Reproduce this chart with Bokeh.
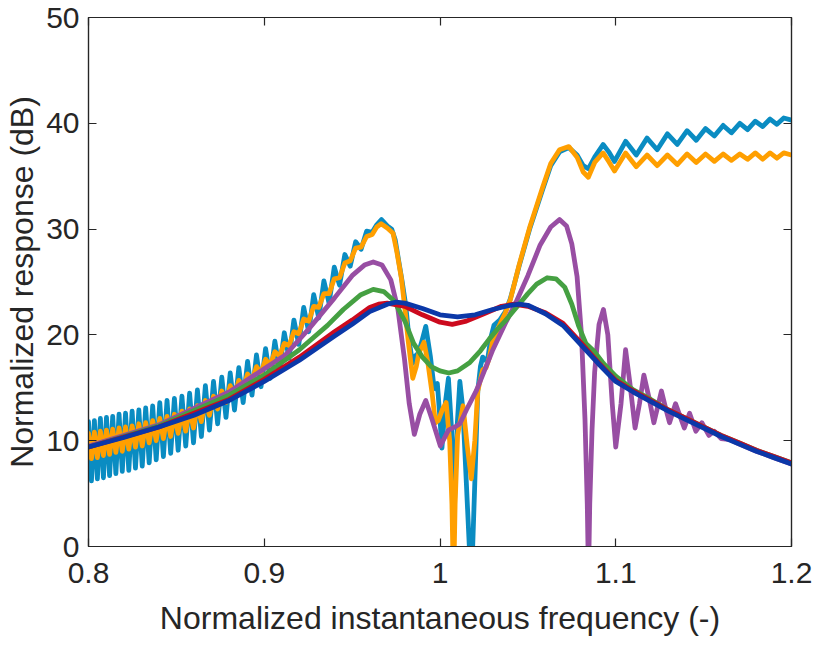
from bokeh.plotting import figure
from bokeh.models import Range1d, FixedTicker, LinearAxis
from bokeh.embed import file_html
from bokeh.resources import INLINE

# ---------------- data ----------------
# ripple extrema shared by the two oscillating responses (0.80 .. 0.962)
ripple_x = [0.80000, 0.80167, 0.80335, 0.80505, 0.80676, 0.80849, 0.81023, 0.81199, 0.81377, 0.81557,
            0.81738, 0.81922, 0.82107, 0.82293, 0.82482, 0.82672, 0.82864, 0.83058, 0.83254, 0.83452,
            0.83651, 0.83852, 0.84056, 0.84261, 0.84468, 0.84677, 0.84888, 0.85101, 0.85316, 0.85533,
            0.85753, 0.85974, 0.86197, 0.86423, 0.86651, 0.86881, 0.87113, 0.87347, 0.87584, 0.87823,
            0.88064, 0.88307, 0.88553, 0.88801, 0.89051, 0.89303, 0.89558, 0.89816, 0.90076, 0.90338,
            0.90603, 0.90870, 0.91140, 0.91412, 0.91687, 0.91965, 0.92246, 0.92529, 0.92815, 0.93103,
            0.93394, 0.93688, 0.93985, 0.94284, 0.94587, 0.94892, 0.95200, 0.95511, 0.95825, 0.96142]
cyan_ripple = [11.8, 6.2, 11.9, 6.4, 12.1, 6.5, 12.2, 6.7, 12.3, 6.9, 12.5, 7.1, 12.6, 7.2, 12.8, 7.4,
               12.9, 7.6, 13.1, 7.9, 13.3, 8.2, 13.6, 8.5, 13.8, 8.8, 14.0, 9.1, 14.2, 9.5, 14.5, 9.8,
               14.8, 10.4, 15.2, 11.0, 15.6, 11.6, 16.0, 12.2, 16.4, 12.9, 16.9, 13.6, 17.5, 14.3,
               18.1, 15.1, 18.7, 15.9, 19.4, 16.7, 20.2, 17.8, 21.4, 19.1, 22.6, 20.3, 23.8, 21.6,
               25.1, 23.0, 26.4, 24.7, 27.6, 26.5, 28.8, 28.1, 29.8, 29.7]
orange_ripple = [10.7, 8.3, 10.8, 8.4, 10.9, 8.6, 11.0, 8.7, 11.1, 8.9, 11.2, 9.0, 11.3, 9.2, 11.4, 9.4,
                 11.6, 9.5, 11.7, 9.8, 11.9, 10.0, 12.1, 10.2, 12.3, 10.4, 12.5, 10.7, 12.8, 10.9,
                 13.0, 11.2, 13.3, 11.8, 13.8, 12.4, 14.2, 13.0, 14.7, 13.6, 15.2, 14.2, 15.7, 14.9,
                 16.3, 15.7, 17.0, 16.4, 17.7, 17.1, 18.4, 18.0, 19.2, 19.0, 20.3, 20.1, 21.5, 21.3,
                 22.7, 22.6, 23.9, 23.9, 25.3, 25.4, 26.8, 27.0, 28.2, 28.3, 29.3, 29.5]

# middle part (peak, notch region, rise to the upper plateau)
cyan_mid_x = [0.9640, 0.9667, 0.9700, 0.9725, 0.9745, 0.9765, 0.9785, 0.9805, 0.9826, 0.9844, 0.9860,
              0.9878, 0.9900, 0.9919, 0.9945, 0.9965, 0.9975, 0.9985, 0.9998, 1.0011, 1.0030, 1.0048,
              1.0066, 1.0080, 1.0098, 1.0113, 1.0130, 1.0150, 1.0178, 1.0198, 1.0215, 1.0230, 1.0243,
              1.0258, 1.0272, 1.0290, 1.0307, 1.0340, 1.0372, 1.0400, 1.0450, 1.0510, 1.0585, 1.0630,
              1.0680, 1.0733, 1.0780, 1.0815, 1.0844, 1.0880, 1.0928, 1.0960, 1.0993]
cyan_mid_y = [30.4, 30.9, 30.3, 30.0, 29.0, 27.0, 25.0, 22.8, 19.3, 17.3, 18.0,
              18.3, 19.6, 20.8, 18.0, 15.2, 14.9, 15.4, 12.5, 9.3, 13.5, 15.9,
              11.0, 3.0, 11.5, 15.6, 13.0, 6.0, -4.0, 6.0, 14.7, 17.0, 17.9,
              17.6, 17.8, 19.8, 20.9, 21.4, 22.2, 23.4, 26.5, 30.0, 33.8, 36.0,
              37.3, 37.7, 37.0, 36.0, 35.7, 36.8, 38.0, 37.3, 36.4]
orange_mid_x = [0.9640, 0.9665, 0.9700, 0.9733, 0.9755, 0.9780, 0.9800, 0.9820, 0.9845, 0.9865, 0.9880,
                0.9909, 0.9930, 0.9955, 0.9974, 0.9990, 1.0015, 1.0035, 1.0055, 1.0068, 1.0077, 1.0086,
                1.0100, 1.0131, 1.0155, 1.0178, 1.0198, 1.0215, 1.0243, 1.0262, 1.0280, 1.0298, 1.0335,
                1.0372, 1.0400, 1.0450, 1.0511, 1.0585, 1.0630, 1.0680, 1.0733, 1.0780, 1.0815, 1.0844,
                1.0880, 1.0928, 1.0960, 1.0993]
orange_mid_y = [30.2, 30.5, 30.1, 29.6, 27.8, 25.4, 22.5, 19.3, 15.9, 17.0, 18.3,
                19.3, 17.5, 14.5, 11.7, 11.9, 13.0, 13.6, 10.0, 4.0, -4.0, 4.0,
                10.5, 13.3, 9.5, 6.4, 10.0, 14.7, 16.7, 16.9, 17.8, 19.3, 20.8,
                22.1, 23.3, 26.6, 30.2, 34.0, 36.2, 37.5, 37.8, 36.8, 35.4, 34.9,
                36.3, 37.2, 36.4, 35.5]

# upper plateau ripples (1.10 .. 1.20)
right_x = [1.1056, 1.1117, 1.1178, 1.1236, 1.1294, 1.1350, 1.1406, 1.1458, 1.1511, 1.1561,
           1.1611, 1.1658, 1.1706, 1.1750, 1.1794, 1.1836, 1.1878, 1.1917, 1.1956, 1.2000]
cyan_right = [38.3, 37.0, 38.6, 37.5, 39.0, 38.0, 39.3, 38.4, 39.5, 38.8,
              39.8, 39.1, 40.0, 39.4, 40.2, 39.7, 40.4, 39.9, 40.5, 40.3]
orange_right = [37.2, 35.9, 37.0, 36.0, 37.0, 36.1, 37.1, 36.3, 37.1, 36.4,
                37.1, 36.5, 37.1, 36.6, 37.2, 36.6, 37.2, 36.7, 37.2, 37.0]

purple_x = [0.80, 0.84, 0.88, 0.90, 0.912, 0.925, 0.94, 0.95, 0.957, 0.962, 0.967, 0.972, 0.976,
            0.9798, 0.9825, 0.9854, 0.9885, 0.9919, 0.9955, 1.0002, 1.0048, 1.0085, 1.0113, 1.015,
            1.0206, 1.025, 1.0298, 1.0372, 1.043, 1.05, 1.057, 1.063, 1.068, 1.072, 1.075, 1.078,
            1.0805, 1.0825, 1.0838, 1.0845, 1.0852, 1.0865, 1.088, 1.0905, 1.093, 1.0955, 1.098,
            1.100, 1.103, 1.1056, 1.108, 1.111, 1.1135, 1.116, 1.119, 1.1217, 1.124, 1.126, 1.1285,
            1.1306, 1.134, 1.139, 1.142, 1.1456, 1.149, 1.153, 1.156, 1.16, 1.165, 1.17, 1.18, 1.19, 1.20]
purple_y = [9.5, 11.5, 14.6, 16.8, 18.1, 20.5, 23.5, 25.6, 26.6, 26.9, 26.6, 25.2, 22.5,
            17.7, 13.5, 10.6, 12.5, 13.8, 12.0, 9.5, 11.0, 11.3, 11.6, 12.9,
            14.7, 16.5, 18.5, 21.1, 23.0, 25.6, 28.5, 30.2, 30.9, 30.3, 28.6, 25.5,
            20.0, 12.0, 4.0, -3.0, 4.0, 11.0, 16.5, 21.0, 22.4, 20.0, 13.5,
            9.4, 13.5, 18.6, 15.5, 11.2, 13.5, 16.2, 14.0, 11.7, 13.3, 14.7, 13.0,
            11.7, 13.5, 11.2, 12.6, 10.9, 11.7, 10.5, 10.9, 10.2, 10.1, 9.7, 9.0, 8.4, 7.8]

green_x = [0.80, 0.84, 0.88, 0.90, 0.92, 0.936, 0.945, 0.955, 0.962, 0.968, 0.974, 0.98, 0.985,
           0.99, 0.995, 1.0, 1.005, 1.01, 1.017, 1.023, 1.028, 1.033, 1.037, 1.045, 1.05, 1.055,
           1.061, 1.066, 1.071, 1.075, 1.079, 1.083, 1.088, 1.093, 1.10, 1.11, 1.12, 1.13, 1.14,
           1.15, 1.16, 1.17, 1.18, 1.19, 1.20]
green_y = [9.4, 11.4, 14.3, 16.2, 18.6, 20.9, 22.4, 23.8, 24.3, 24.1, 23.2, 21.3, 19.2,
           17.9, 17.0, 16.6, 16.4, 16.6, 17.4, 18.5, 19.6, 20.6, 21.3, 22.9, 23.9, 24.8,
           25.4, 25.3, 24.5, 22.9, 20.8, 19.2, 18.4, 17.3, 16.1, 14.8, 13.9, 12.9, 12.1,
           11.3, 10.5, 9.8, 9.1, 8.5, 7.9]

red_x = [0.80, 0.84, 0.88, 0.90, 0.92, 0.94, 0.95, 0.96, 0.965, 0.97, 0.98, 0.99, 1.00, 1.007,
         1.015, 1.025, 1.035, 1.042, 1.05, 1.06, 1.07, 1.08, 1.09, 1.10, 1.11, 1.12, 1.13, 1.14,
         1.15, 1.16, 1.17, 1.18, 1.19, 1.20]
red_y = [9.4, 11.3, 13.9, 15.8, 17.9, 20.3, 21.4, 22.6, 22.9, 23.0, 22.7, 21.9, 21.2, 21.0,
         21.3, 22.0, 22.7, 22.9, 22.7, 22.1, 21.1, 19.3, 17.4, 15.7, 14.7, 13.8, 12.9, 12.1,
         11.3, 10.5, 9.8, 9.1, 8.5, 7.9]

blue_x = [0.80, 0.82, 0.84, 0.86, 0.88, 0.90, 0.92, 0.94, 0.95, 0.96, 0.97, 0.975, 0.98, 0.99,
          1.00, 1.01, 1.02, 1.03, 1.04, 1.045, 1.05, 1.06, 1.07, 1.08, 1.09, 1.10, 1.11, 1.12,
          1.13, 1.14, 1.15, 1.16, 1.17, 1.18, 1.19, 1.20]
blue_y = [9.4, 10.3, 11.3, 12.4, 13.8, 15.6, 17.6, 19.9, 21.0, 22.2, 22.9, 23.1, 23.0, 22.5,
          21.9, 21.7, 21.9, 22.4, 22.8, 22.9, 22.8, 22.0, 20.9, 19.1, 17.3, 15.6, 14.6, 13.7,
          12.8, 12.0, 11.2, 10.4, 9.7, 9.0, 8.4, 7.8]

x_ticks = [0.8, 0.9, 1.0, 1.1, 1.2]
x_tick_labels = ["0.8", "0.9", "1", "1.1", "1.2"]
y_ticks = [0, 10, 20, 30, 40, 50]

# ---------------- figure ----------------
FONT = "Liberation Sans"
AX = "#262626"
FS_TICK = "30px"
FS_LABEL = "32px"

p = figure(width=814, height=642, x_range=Range1d(0.8, 1.2), y_range=Range1d(0, 50),
           output_backend="svg", toolbar_location=None,
           min_border_left=88, min_border_right=23, min_border_top=17, min_border_bottom=96)
p.grid.visible = False
p.background_fill_color = "white"
p.border_fill_color = "white"
p.outline_line_color = AX
p.outline_line_width = 1.2

def style_axis(ax, show_labels=True):
    ax.axis_line_color = AX
    ax.axis_line_width = 1.2
    ax.major_tick_line_color = AX
    ax.major_tick_line_width = 1.2
    ax.major_tick_in = 8
    ax.major_tick_out = 0
    ax.minor_tick_line_color = None
    ax.major_label_text_font = FONT
    ax.axis_label_text_font = FONT
    ax.axis_label_text_font_size = FS_LABEL
    ax.axis_label_text_font_style = "normal"
    ax.axis_label_text_color = AX
    if show_labels:
        ax.major_label_text_font_size = FS_TICK
        ax.major_label_text_color = AX
    else:
        ax.major_label_text_font_size = "0px"
        ax.major_label_text_color = None
        ax.major_label_text_alpha = 0

xa = p.xaxis[0]
ya = p.yaxis[0]
xa.ticker = FixedTicker(ticks=x_ticks)
xa.major_label_overrides = {t: s for t, s in zip(x_ticks, x_tick_labels)}
ya.ticker = FixedTicker(ticks=y_ticks)
style_axis(xa)
style_axis(ya)
xa.axis_label = "Normalized instantaneous frequency (-)"
ya.axis_label = "Normalized response (dB)"
xa.major_label_standoff = 16
xa.axis_label_standoff = 14
ya.major_label_standoff = 9
ya.axis_label_standoff = 3

top = LinearAxis(ticker=FixedTicker(ticks=x_ticks))
right = LinearAxis(ticker=FixedTicker(ticks=y_ticks))
for ax in (top, right):
    style_axis(ax, show_labels=False)
    ax.major_label_standoff = 0
p.add_layout(top, "above")
p.add_layout(right, "right")

LW = 4.8
kw = dict(line_width=LW, line_join="round", line_cap="round")
p.line(ripple_x + cyan_mid_x + right_x, cyan_ripple + cyan_mid_y + cyan_right, line_color="#0A8CC2", **kw)
p.line(ripple_x + orange_mid_x + right_x, orange_ripple + orange_mid_y + orange_right, line_color="#FF9F00", **kw)
p.line(purple_x, purple_y, line_color="#984EA3", **kw)
p.line(green_x, green_y, line_color="#45A042", **kw)
p.line(red_x, red_y, line_color="#CC0A1E", **kw)
p.line(blue_x, blue_y, line_color="#0B38A8", **kw)

open("out.html", "w").write(file_html(p, INLINE))
